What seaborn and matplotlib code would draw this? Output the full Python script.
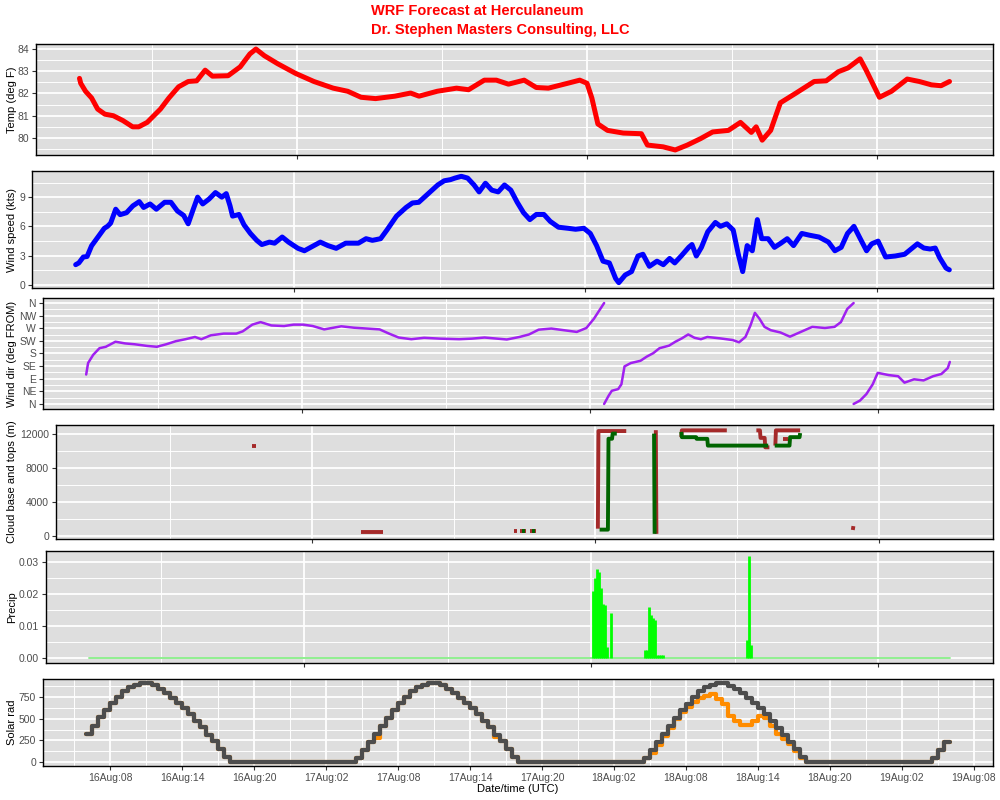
import numpy as np
import pandas as pd
import matplotlib
matplotlib.use("Agg")
import matplotlib.pyplot as plt
import matplotlib.dates as mdates
import matplotlib.ticker as mticker
import seaborn as sns

# forecast window (UTC)
START = pd.Timestamp("2023-08-16 06:00")
END = pd.Timestamp("2023-08-19 06:00")

# ---- temperature (hours after START, deg F)
temp_h = [0.0, 0.1, 0.5, 1.0, 1.5, 2.1, 2.8, 3.6, 4.4, 4.9, 5.6, 6.7, 7.4, 8.2, 9.0,
          9.7, 10.4, 11.0, 12.3, 13.3, 14.1, 14.6, 15.3, 16.4, 17.9, 19.4, 21.0, 22.2,
          23.3, 24.5, 26.1, 27.4, 28.1, 29.6, 31.2, 32.2, 33.5, 34.5, 35.5, 36.8, 37.8,
          38.8, 40.4, 41.4, 42.0, 42.4, 42.9, 43.7, 45.0, 46.5, 47.0, 48.3, 49.3, 50.3,
          51.4, 52.4, 53.7, 54.7, 55.2, 55.6, 56.0, 56.5, 57.2, 58.0, 59.3, 60.8, 61.8,
          62.8, 63.6, 64.6, 65.1, 66.2, 67.2, 68.5, 69.5, 70.5, 71.3, 72.0]
temp_f = [82.68, 82.46, 82.1, 81.8, 81.3, 81.07, 81.0, 80.78, 80.5, 80.5, 80.7, 81.3,
          81.8, 82.3, 82.54, 82.57, 83.05, 82.78, 82.8, 83.2, 83.78, 84.0, 83.7, 83.34,
          82.9, 82.54, 82.24, 82.1, 81.83, 81.77, 81.88, 82.02, 81.88, 82.1, 82.24, 82.17,
          82.6, 82.6, 82.42, 82.6, 82.27, 82.24, 82.46, 82.6, 82.46, 81.8, 80.63, 80.34,
          80.22, 80.19, 79.68, 79.6, 79.46, 79.68, 79.97, 80.27, 80.34, 80.7, 80.45, 80.25,
          80.5, 79.9, 80.34, 81.58, 82.02, 82.54, 82.57, 82.98, 83.15, 83.56, 83.05, 81.83,
          82.1, 82.65, 82.54, 82.39, 82.35, 82.54]

# ---- wind speed (kts)
wspd_h = [0.0, 0.26, 0.63, 0.94, 1.31, 1.83, 2.36, 2.62, 2.88, 3.3, 3.66, 4.19, 4.71,
          5.24, 5.6, 6.13, 6.65, 7.33, 7.85, 8.38, 8.9, 9.27, 9.69, 10.05, 10.47, 10.99,
          11.52, 12.04, 12.41, 12.72, 12.93, 13.46, 13.87, 14.4, 14.92, 15.34, 15.97,
          16.39, 17.02, 17.54, 18.32, 18.85, 19.37, 20.16, 20.79, 21.47, 22.25, 23.3,
          23.93, 24.45, 25.13, 25.65, 26.44, 27.23, 27.75, 28.27, 29.06, 29.84, 30.37,
          30.89, 31.26, 31.78, 32.3, 32.83, 33.25, 33.77, 34.29, 34.82, 35.34, 35.86,
          36.39, 36.91, 37.43, 37.96, 38.59, 39.11, 39.79, 40.58, 41.2, 41.88, 42.41,
          42.93, 43.46, 43.98, 44.5, 44.76, 45.29, 45.81, 46.34, 46.75, 47.28, 47.91,
          48.43, 48.95, 49.37, 49.9, 50.52, 50.79, 51.15, 51.57, 52.09, 52.72, 53.14,
          53.66, 54.19, 54.61, 54.97, 55.34, 55.76, 56.18, 56.54, 57.07, 57.59, 58.12,
          58.64, 59.16, 59.84, 60.47, 61.26, 62.04, 62.57, 63.09, 63.61, 64.14, 64.66,
          65.18, 65.6, 66.13, 66.75, 67.54, 68.32, 68.85, 69.37, 69.9, 70.42, 70.84,
          71.2, 71.73, 72.0]
wspd_kt = [2.06, 2.24, 2.85, 2.9, 4.0, 4.9, 5.8, 6.0, 6.33, 7.76, 7.2, 7.4, 8.1, 8.54,
           7.94, 8.3, 7.76, 8.47, 8.47, 7.58, 7.12, 6.26, 7.76, 9.0, 8.3, 8.8, 9.47, 9.0,
           9.36, 8.11, 7.05, 7.22, 6.16, 5.27, 4.56, 4.13, 4.38, 4.27, 4.9, 4.38, 3.74,
           3.49, 3.84, 4.38, 4.02, 3.74, 4.27, 4.27, 4.73, 4.56, 4.73, 5.62, 7.05, 7.94,
           8.4, 8.47, 9.36, 10.25, 10.68, 10.8, 10.96, 11.14, 10.96, 10.25, 9.54, 10.43,
           9.72, 9.54, 10.25, 9.72, 8.47, 7.4, 6.69, 7.22, 7.22, 6.51, 5.91, 5.8, 5.7,
           5.8, 5.27, 4.02, 2.42, 2.24, 0.64, 0.21, 1.0, 1.35, 2.95, 3.13, 1.89, 2.42,
           2.06, 2.7, 2.24, 2.95, 3.84, 4.13, 2.95, 3.84, 5.44, 6.4, 6.0, 6.26, 5.62,
           3.13, 1.35, 4.02, 3.49, 6.69, 4.73, 4.73, 3.84, 4.27, 4.73, 4.02, 5.27, 5.09,
           4.9, 4.38, 3.49, 3.84, 5.27, 6.0, 4.73, 3.49, 4.2, 4.48, 2.85, 2.95, 3.13,
           3.67, 4.2, 3.77, 3.67, 3.77, 2.78, 1.71, 1.53]

# ---- wind direction (deg FROM), nan where the trace wraps from N back to N
wdir_h = [0.0, 0.16, 0.58, 1.11, 1.64, 2.44, 3.24, 4.03, 5.09, 5.89, 6.68, 7.48, 8.28,
          9.07, 9.6, 10.4, 11.46, 12.52, 13.05, 13.85, 14.54, 15.44, 16.5, 17.29, 18.09,
          18.89, 19.84, 20.48, 21.27, 22.33, 23.4, 24.46, 25.25, 26.05, 27.11, 28.17,
          29.5, 31.09, 32.15, 33.21, 34.27, 35.07, 36.13, 36.92, 37.72, 38.78, 39.84,
          40.9, 41.7, 42.33, 42.86, 43.18, np.nan,
          43.18, 43.55, 43.82, 44.35, 44.62, 44.88, 45.41, 46.21, 46.74, 47.27, 47.8,
          48.59, 49.12, 49.66, 50.19, 50.72, 51.25, 51.78, 52.84, 53.9, 54.43, 54.96,
          55.38, 55.75, 56.13, 56.55, 57.08, 57.88, 58.67, 59.47, 60.53, 61.59, 62.39,
          62.92, 63.45, 63.98, np.nan,
          63.98, 64.51, 65.04, 65.57, 65.99, 66.9, 67.69, 68.22, 69.02, 69.81, 70.61,
          71.3, 71.83, 72.0]
wdir_deg = [105, 146, 175, 199, 204, 222, 216, 213, 207, 204, 213, 224, 231, 239, 231,
            245, 251, 251, 259, 283, 292, 280, 278, 283, 283, 278, 266, 271, 277, 272,
            269, 266, 251, 237, 231, 236, 233, 231, 233, 237, 233, 230, 239, 248, 265,
            269, 263, 257, 271, 304, 339, 360, np.nan,
            0, 29, 47, 53, 70, 134, 146, 154, 169, 181, 199, 208, 222, 234, 248, 236, 231,
            239, 234, 228, 220, 239, 280, 325, 304, 275, 263, 255, 240, 255, 275, 271,
            275, 292, 339, 360, np.nan,
            0, 12, 35, 70, 111, 103, 99, 76, 88, 84, 99, 107, 128, 150]
dir_ticks = [0, 45, 90, 135, 180, 225, 270, 315, 360]
dir_labels = ["N", "NE", "E", "SE", "S", "SW", "W", "NW", "N"]

# ---- cloud tops (brown) and bases (green), metres; nan separates cloud pieces
top_h = [13.0, 13.3, np.nan, 22.2, 24.0, np.nan, 35.1, 35.35, np.nan, 35.65, 36.1, np.nan,
         36.5, 36.95, np.nan, 42.2, 42.25, 44.6, np.nan, 47.1, 47.15, np.nan,
         49.25, 49.3, 53.1, np.nan, 55.6, 55.9, 55.95, 56.3, 56.35, 56.7, np.nan,
         57.2, 57.25, 59.3, np.nan, 57.85, 58.3, np.nan, 63.75, 63.8]
top_m = [10500, 10500, np.nan, 550, 550, np.nan, 600, 600, np.nan, 680, 680, np.nan,
         680, 680, np.nan, 900, 12300, 12300, np.nan, 12400, 300, np.nan,
         11600, 12380, 12380, np.nan, 12380, 12380, 11500, 11500, 10400, 10400, np.nan,
         10600, 12380, 12380, np.nan, 11400, 11400, np.nan, 750, 1200]
base_h = [35.75, 36.0, np.nan, 36.6, 36.85, np.nan, 42.35, 43.05, 43.1, 43.4, 43.45,
          43.8, np.nan, 46.95, 47.0, np.nan, 49.25, 49.3, 50.5, 50.55, 51.45, 51.5, 56.6,
          np.nan, 57.15, 58.4, 58.45, 59.25, 59.3]
base_m = [680, 680, np.nan, 680, 680, np.nan, 790, 790, 11400, 11400, 12000, 12000,
          np.nan, 12000, 300, np.nan, 12200, 11585, 11585, 11390, 11390, 10600, 10600,
          np.nan, 10600, 10600, 11585, 11585, 12060]

# ---- precipitation (10-minute totals)
precip_h = [42.17, 42.33, 42.5, 42.67, 42.83, 43.0, 43.17, 43.33, 43.67, 46.5, 46.67,
            46.83, 47.0, 47.17, 47.33, 47.5, 47.67, 47.83, 48.0, 55.0, 55.17, 55.33]
precip_in = [0.021, 0.025, 0.028, 0.027, 0.022, 0.017, 0.0165, 0.0035, 0.014, 0.0025,
             0.0025, 0.016, 0.0135, 0.0125, 0.012, 0.001, 0.001, 0.001, 0.001, 0.0055,
             0.032, 0.004]
precip_base_h = [0.0, 72.0]
precip_base = [0.0, 0.0]

# ---- solar radiation, every 30 min from START to END
solar_clear = [
    327, 422, 517, 601, 681, 756, 821, 867, 897, 916, 916, 889, 847, 802, 745, 688,
    624, 555, 479, 403, 316, 239, 148, 60,
    0, 0, 0, 0, 0, 0, 0, 0, 0, 0, 0, 0, 0, 0, 0, 0, 0, 0, 0, 0, 0,
    45, 137, 232,
    325, 420, 515, 600, 680, 755, 820, 866, 896, 915, 915, 888, 846, 801, 744, 687,
    623, 554, 478, 402, 315, 238, 147, 59,
    0, 0, 0, 0, 0, 0, 0, 0, 0, 0, 0, 0, 0, 0, 0, 0, 0, 0, 0, 0, 0,
    44, 136, 231,
    323, 418, 513, 598, 678, 753, 818, 864, 894, 913, 913, 886, 844, 799, 742, 685,
    621, 552, 476, 400, 313, 236, 146, 58,
    0, 0, 0, 0, 0, 0, 0, 0, 0, 0, 0, 0, 0, 0, 0, 0, 0, 0, 0, 0, 0,
    44, 136, 230, 230]
solar_fcst = [
    327, 422, 517, 601, 681, 756, 821, 867, 897, 916, 916, 889, 847, 802, 745, 688,
    624, 555, 479, 403, 316, 239, 148, 60,
    0, 0, 0, 0, 0, 0, 0, 0, 0, 0, 0, 0, 0, 0, 0, 0, 0, 0, 0, 0, 0,
    45, 137, 232,
    275, 420, 515, 600, 680, 755, 820, 866, 896, 915, 915, 888, 846, 801, 744, 687,
    623, 554, 478, 402, 290, 238, 147, 59,
    0, 0, 0, 0, 0, 0, 0, 0, 0, 0, 0, 0, 0, 0, 0, 0, 0, 0, 0, 0, 0,
    44, 100, 200,
    300, 400, 500, 575, 640, 700, 740, 770, 783, 730, 670, 536, 479, 430, 425, 479,
    536, 510, 420, 330, 270, 205, 130, 52,
    0, 0, 0, 0, 0, 0, 0, 0, 0, 0, 0, 0, 0, 0, 0, 0, 0, 0, 0, 0, 0,
    44, 136, 230, 230]

W, H = 1000, 800
PANEL_BG = "#DEDEDE"
TICK_COLOR = "#4D4D4D"


def to_time(hours):
    return START + pd.to_timedelta(np.asarray(hours, dtype=float), unit="h")


def pieces(hours, values):
    df = pd.DataFrame({"h": np.asarray(hours, float), "v": np.asarray(values, float)})
    df["piece"] = df["h"].isna().cumsum()
    df = df.dropna()
    df["time"] = to_time(df["h"])
    return df


def box(left, top, bottom, right=993):
    return [left / W, 1 - bottom / H, (right - left) / W, (bottom - top) / H]


sns.set_theme(style="darkgrid")
plt.rcParams["font.family"] = ["Liberation Sans", "DejaVu Sans"]

fig = plt.figure(figsize=(10, 8), dpi=100)
ax_t = fig.add_axes(box(36, 44, 155))
ax_w = fig.add_axes(box(32, 171, 288))
ax_d = fig.add_axes(box(43, 298, 409))
ax_c = fig.add_axes(box(56, 425, 539))
ax_p = fig.add_axes(box(46, 551, 663))
ax_s = fig.add_axes(box(43, 679, 766))

pad = (END - START) * 0.05
xlim = (START - pad, END + pad)


def style(ax, ylabel, major, minor, bottom=False):
    ax.set_facecolor(PANEL_BG)
    ax.set_xlim(*xlim)
    if bottom:
        ax.xaxis.set_major_locator(mdates.HourLocator(byhour=[2, 8, 14, 20]))
        ax.xaxis.set_minor_locator(mdates.HourLocator(byhour=[5, 11, 17, 23]))
        ax.xaxis.set_major_formatter(mdates.DateFormatter("%d%b:%H"))
        ax.set_xlabel("Date/time (UTC)", fontsize=8, color="black", labelpad=1)
    else:
        ax.xaxis.set_major_locator(mdates.HourLocator(byhour=[0]))
        ax.xaxis.set_minor_locator(mdates.HourLocator(byhour=[12]))
        ax.tick_params(axis="x", labelbottom=False)
        ax.set_xlabel("")
    ax.yaxis.set_major_locator(mticker.FixedLocator(major))
    ax.yaxis.set_minor_locator(mticker.FixedLocator(minor))
    ax.grid(which="major", color="white", linewidth=1.3)
    ax.grid(which="minor", color="white", linewidth=0.7)
    ax.set_axisbelow(True)
    ax.tick_params(which="major", bottom=True, left=True, length=3, width=0.8,
                   color="#333333", labelsize=7.5, labelcolor=TICK_COLOR, pad=2)
    ax.tick_params(which="minor", length=0)
    for s in ax.spines.values():
        s.set_visible(True)
        s.set_color("black")
        s.set_linewidth(1.0)
    ax.set_ylabel(ylabel, fontsize=8, color="black")
    pos = ax.get_position()
    ax.yaxis.set_label_coords(17 / W, pos.y0 + pos.height / 2, transform=fig.transFigure)


# temperature
sns.lineplot(x=to_time(temp_h), y=temp_f, ax=ax_t, color="#FF0000", linewidth=3.6,
             estimator=None)
style(ax_t, "Temp (deg F)", [80, 81, 82, 83, 84], [79.5, 80.5, 81.5, 82.5, 83.5])

# wind speed
sns.lineplot(x=to_time(wspd_h), y=wspd_kt, ax=ax_w, color="#0000FF", linewidth=3.6,
             estimator=None)
style(ax_w, "Wind speed (kts)", [0, 3, 6, 9], [1.5, 4.5, 7.5, 10.5])

# wind direction
wd = pieces(wdir_h, wdir_deg)
sns.lineplot(data=wd, x="time", y="v", units="piece", estimator=None, sort=False,
             ax=ax_d, color="#A020F0", linewidth=1.8)
style(ax_d, "Wind dir (deg FROM)", dir_ticks, [22.5 + 45 * k for k in range(8)])
ax_d.set_yticklabels(dir_labels)

# cloud base and tops
ct = pieces(top_h, top_m)
cb = pieces(base_h, base_m)
sns.lineplot(data=ct, x="time", y="v", units="piece", estimator=None, sort=False,
             ax=ax_c, color="#A52A2A", linewidth=2.8, solid_capstyle="butt")
sns.lineplot(data=cb, x="time", y="v", units="piece", estimator=None, sort=False,
             ax=ax_c, color="#006400", linewidth=2.8, solid_capstyle="butt")
style(ax_c, "Cloud base and tops (m)", [0, 4000, 8000, 12000], [2000, 6000, 10000])

# precipitation
sns.lineplot(x=to_time(precip_base_h), y=precip_base, ax=ax_p, color="#90EE90",
             linewidth=1.4, estimator=None)
ax_p.vlines(to_time(precip_h), 0, precip_in, colors="#00FF00", linewidth=2.0)
style(ax_p, "Precip", [0.0, 0.01, 0.02, 0.03], [0.005, 0.015, 0.025])
ax_p.yaxis.set_major_formatter(mticker.FormatStrFormatter("%.2f"))

# solar radiation
solar_t = pd.date_range(START, END, freq="30min")
sns.lineplot(x=solar_t, y=solar_fcst, ax=ax_s, color="#FF8C00", linewidth=3.0,
             drawstyle="steps-post", estimator=None)
sns.lineplot(x=solar_t, y=solar_clear, ax=ax_s, color="#4D4D4D", linewidth=3.0,
             drawstyle="steps-post", estimator=None)
style(ax_s, "Solar rad", [0, 250, 500, 750], [125, 375, 625, 875], bottom=True)

fig.text(0.5, 1 - 4 / H, "WRF Forecast at Herculaneum\nDr. Stephen Masters Consulting, LLC",
         ha="center", va="top", multialignment="left", color="#FF0000",
         fontsize=10.5, fontweight="bold", linespacing=1.45)

fig.savefig("out.png", dpi=100, facecolor="white")
